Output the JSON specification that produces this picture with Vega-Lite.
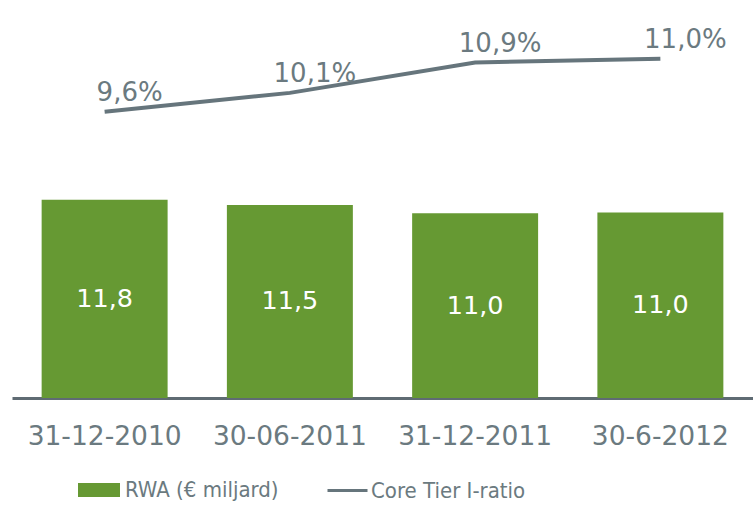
{
  "$schema": "https://vega.github.io/schema/vega-lite/v6.json",
  "width": 741,
  "height": 398,
  "autosize": {"type": "none"},
  "padding": {"left": 12, "top": 0, "right": 0, "bottom": 107},
  "background": "white",
  "config": {
    "view": {"stroke": null},
    "font": "DejaVu Sans",
    "locale": {"number": {"decimal": ",", "thousands": ".", "grouping": [3], "currency": ["€", ""]}}
  },
  "data": {
    "values": [
      {"date": "31-12-2010", "RWA": 11.8, "ratio": 0.096},
      {"date": "30-06-2011", "RWA": 11.5, "ratio": 0.101},
      {"date": "31-12-2011", "RWA": 11.0, "ratio": 0.109},
      {"date": "30-6-2012", "RWA": 11.04, "ratio": 0.110}
    ]
  },
  "encoding": {
    "x": {
      "field": "date", "type": "nominal", "sort": null,
      "scale": {"paddingInner": 0.32, "paddingOuter": 0.16},
      "axis": {
        "title": null, "ticks": false, "labelAngle": 0,
        "labelFont": "DejaVu Sans", "labelFontSize": 26.5, "labelColor": "#6b7a80",
        "labelPadding": 25, "domainColor": "#5f6b73", "domainWidth": 3,
        "grid": false
      }
    }
  },
  "layer": [
    {
      "mark": {"type": "bar"},
      "encoding": {
        "y": {"field": "RWA", "type": "quantitative", "scale": {"domain": [0, 23.7]}, "axis": null},
        "fill": {
          "datum": "RWA (€ miljard)",
          "scale": {"range": ["#669933"]},
          "legend": {
            "title": null, "orient": "none", "legendX": 66, "legendY": 469,
            "symbolType": "M-1,-0.33H1V0.33H-1Z", "symbolSize": 1764, "symbolStrokeWidth": 0,
            "labelFont": "DejaVu Sans Condensed", "labelFontSize": 22, "labelColor": "#6b7a80",
            "labelOffset": 5, "padding": 0
          }
        }
      }
    },
    {
      "mark": {"type": "text", "color": "white", "fontSize": 25.5, "font": "DejaVu Sans", "baseline": "middle"},
      "encoding": {
        "y": {"field": "RWA", "type": "quantitative", "scale": {"domain": [0, 47.4]}, "axis": null},
        "text": {"field": "RWA", "type": "quantitative", "format": ".1f"}
      }
    },
    {
      "mark": {"type": "line", "strokeWidth": 4},
      "encoding": {
        "y": {"field": "ratio", "type": "quantitative", "scale": {"domain": [0.0205, 0.1255], "zero": false}, "axis": null},
        "stroke": {
          "datum": "Core Tier I-ratio",
          "scale": {"range": ["#66757c"]},
          "legend": {
            "title": null, "orient": "none", "legendX": 314, "legendY": 469,
            "symbolType": "stroke", "symbolSize": 1600, "symbolStrokeWidth": 3,
            "labelFont": "DejaVu Sans Condensed", "labelFontSize": 22, "labelColor": "#6b7a80",
            "labelOffset": 2, "padding": 0
          }
        }
      }
    },
    {
      "mark": {"type": "text", "color": "#6b7a80", "fontSize": 26, "font": "DejaVu Sans", "baseline": "alphabetic", "align": "center", "dx": 25, "dy": -11},
      "encoding": {
        "y": {"field": "ratio", "type": "quantitative", "scale": {"domain": [0.0205, 0.1255], "zero": false}, "axis": null},
        "text": {"field": "ratio", "type": "quantitative", "format": ".1%"}
      }
    }
  ],
  "resolve": {"scale": {"y": "independent"}}
}
